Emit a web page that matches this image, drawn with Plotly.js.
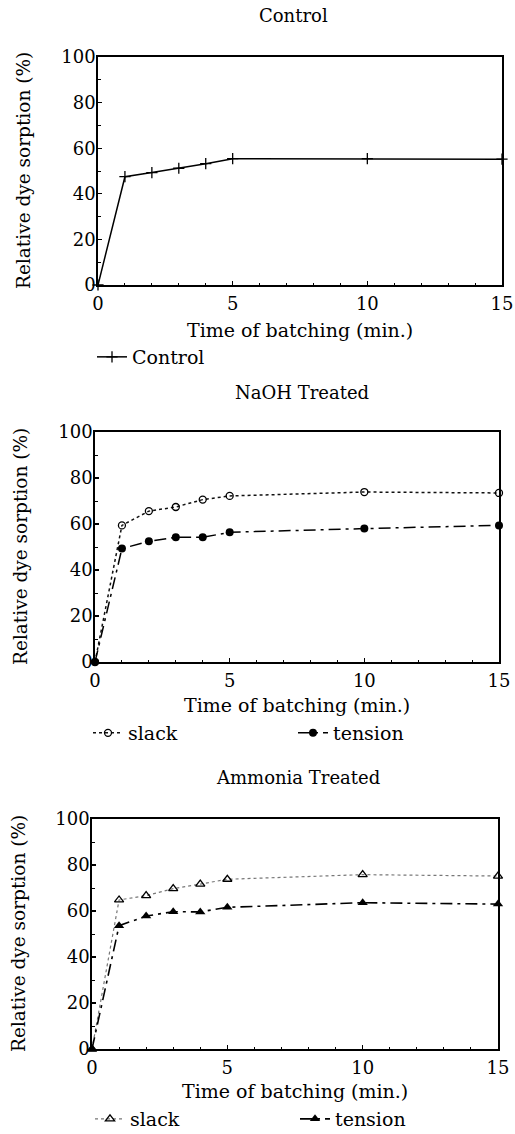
<!DOCTYPE html>
<html>
<head>
<meta charset="utf-8">
<script src="https://cdn.plot.ly/plotly-3.0.1.min.js"></script>
<style>html,body{margin:0;padding:0;background:#fff;}#chart{width:515px;height:1134px;}</style>
</head>
<body>
<div id="chart"></div>
<script>
// Data
const times = [0, 1, 2, 3, 4, 5, 10, 15];
const controlValues = [0, 47.5, 49.3, 51.2, 53.2, 55.4, 55.4, 55.2];
const naohSlack = [0, 59.4, 65.6, 67.4, 70.6, 72.2, 73.9, 73.5];
const naohTension = [0, 49.3, 52.5, 54.2, 54.2, 56.4, 58.0, 59.4];
const ammoniaSlack = [0, 64.8, 66.7, 69.7, 71.7, 73.8, 75.8, 75.2];
const ammoniaTension = [0, 53.6, 57.8, 59.7, 59.6, 61.6, 63.6, 63.0];
const panelTitles = ["Control", "NaOH Treated", "Ammonia Treated"];
const xTitle = "Time of batching (min.)";
const yTitle = "Relative dye sorption (%)";
const xTicks = [0, 5, 10, 15];
const yTicks = [0, 20, 40, 60, 80, 100];

const FONT = "DejaVu Serif";
const W = 515, H = 1134;
// panels in pixel space: [left, right, top, bottom]
const panels = [
  [98, 502, 57, 285],
  [95, 499, 432, 662],
  [92, 498, 819, 1049]
];
const titleY = [15, 392, 777];
const titleX = [293, 302, 298];
const yTitleX = [23, 20, 18];
const xTitleY = [330, 705, 1091];
const legendY = [357, 733, 1119];
const legendX = [92, 88, 90];

function px2x(p){ return p / W; }
function px2y(p){ return 1 - p / H; }

const traces = [
  {x: times, y: controlValues, name: "Control", xaxis: "x", yaxis: "y", legend: "legend",
   mode: "lines+markers", line: {color: "#000", width: 1.5, dash: "solid"},
   marker: {symbol: "cross-thin-open", size: 8, line: {color: "#000", width: 1.3}}, cliponaxis: false},
  {x: times, y: naohSlack, name: "slack", xaxis: "x2", yaxis: "y2", legend: "legend2",
   mode: "lines+markers", line: {color: "#111", width: 1.5, dash: "dot"},
   marker: {symbol: "circle-open", size: 7, color: "#000", line: {color: "#000", width: 1.3}}, cliponaxis: false},
  {x: times, y: naohTension, name: "tension", xaxis: "x2", yaxis: "y2", legend: "legend2",
   mode: "lines+markers", line: {color: "#000", width: 1.5, dash: "12px,5px,3px,5px"},
   marker: {symbol: "circle", size: 8, color: "#000"}, cliponaxis: false},
  {x: times, y: ammoniaSlack, name: "slack", xaxis: "x3", yaxis: "y3", legend: "legend3",
   mode: "lines+markers", line: {color: "#777", width: 1.2, dash: "dot"},
   marker: {symbol: "triangle-up-open", size: 8, color: "#000", line: {color: "#000", width: 1.3}}, cliponaxis: false},
  {x: times, y: ammoniaTension, name: "tension", xaxis: "x3", yaxis: "y3", legend: "legend3",
   mode: "lines+markers", line: {color: "#000", width: 1.6, dash: "12px,5px,3px,5px"},
   marker: {symbol: "triangle-up", size: 9, color: "#000"}, cliponaxis: false}
];

const layout = {
  width: W, height: H,
  margin: {l: 0, r: 0, t: 0, b: 0, autoexpand: false},
  paper_bgcolor: "#fff", plot_bgcolor: "#fff",
  font: {family: FONT, size: 16, color: "#000"},
  annotations: [],
  showlegend: true
};

const suffixes = ["", "2", "3"];
panels.forEach((p, i) => {
  const s = suffixes[i];
  const axBase = {
    showline: true, linecolor: "#000", linewidth: 1.8, mirror: true,
    showgrid: false, zeroline: false,
    ticks: "inside", ticklen: 4, tickwidth: 1.2, tickcolor: "#000",
    tickfont: {family: FONT, size: 18, color: "#000"},
    fixedrange: true, automargin: false
  };
  layout["xaxis" + s] = Object.assign({}, axBase, {
    domain: [px2x(p[0]), px2x(p[1])],
    anchor: "y" + s,
    range: [0, 15], tickmode: "array", tickvals: xTicks,
    ticklabelstandoff: 2,
    minor: {dtick: 1, ticks: "inside", ticklen: 2.5, tickcolor: "#000", tickwidth: 1}
  });
  layout["yaxis" + s] = Object.assign({}, axBase, {
    domain: [px2y(p[3]), px2y(p[2])],
    anchor: "x" + s,
    range: [0, 100], tickmode: "array", tickvals: yTicks,
    ticklabelstandoff: -3,
    minor: {dtick: 10, ticks: "inside", ticklen: 2.5, tickcolor: "#000", tickwidth: 1}
  });
  layout.annotations.push({
    text: panelTitles[i], xref: "paper", yref: "paper",
    x: px2x(titleX[i]), y: px2y(titleY[i]), xanchor: "center", yanchor: "middle",
    showarrow: false, font: {family: FONT, size: 18, color: "#000"}
  });
  layout.annotations.push({
    text: xTitle, xref: "paper", yref: "paper",
    x: px2x((p[0] + p[1]) / 2), y: px2y(xTitleY[i]), xanchor: "center", yanchor: "middle",
    showarrow: false, font: {family: FONT, size: 19, color: "#000"}
  });
  layout.annotations.push({
    text: yTitle, xref: "paper", yref: "paper", textangle: -90,
    x: px2x(yTitleX[i]), y: px2y((p[2] + p[3]) / 2), xanchor: "center", yanchor: "middle",
    showarrow: false, font: {family: FONT, size: 18.5, color: "#000"}
  });
  layout["legend" + s] = {
    orientation: "h", x: px2x(legendX[i]), y: px2y(legendY[i]),
    xanchor: "left", yanchor: "middle", xref: "paper", yref: "paper",
    bgcolor: "rgba(0,0,0,0)", borderwidth: 0,
    entrywidth: 160, entrywidthmode: "pixels", itemwidth: 30,
    font: {family: FONT, size: 19, color: "#000"}, tracegroupgap: 0
  };
});

Plotly.newPlot("chart", traces, layout, {staticPlot: true, displayModeBar: false});
</script>
</body>
</html>
